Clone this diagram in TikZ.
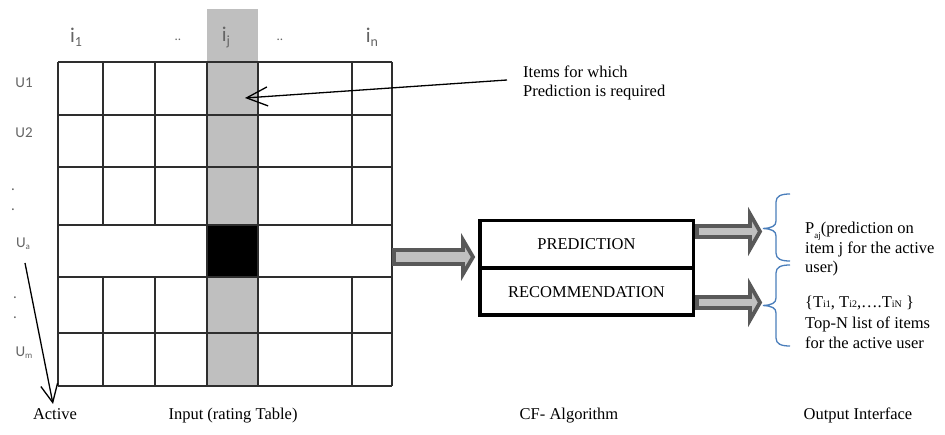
\documentclass[tikz,border=0pt]{standalone}
\usepackage{fontspec}
\setmainfont{Liberation Serif}
\newfontfamily\labfont{Carlito}
\usetikzlibrary{arrows.meta,calc}
\definecolor{gridline}{HTML}{2E2E2E}
\definecolor{colgray}{HTML}{BFBFBF}
\definecolor{fatfill}{HTML}{C0C0C0}
\definecolor{fatedge}{HTML}{595959}
\definecolor{bracecol}{HTML}{4A7EBB}
\definecolor{labgray}{HTML}{646464}
\tikzset{
  gridl/.style={draw=gridline, line width=2pt},
  txt/.style={font=\fontsize{16.5}{19.8}\selectfont, inner sep=0pt},
  rowlab/.style={font=\labfont\fontsize{15}{15}\selectfont, text=labgray, inner sep=0pt},
  collab/.style={font=\labfont\fontsize{21}{21}\selectfont, text=labgray, inner sep=0pt},
  boxpart/.style={draw=black, line width=3.5pt, minimum width=213.5pt, minimum height=47pt, inner sep=0pt, font=\fontsize{16.5}{19.8}\selectfont},
  fatarrow/.style={fill=fatfill, draw=fatedge, line width=3.8pt},
  bracestyle/.style={draw=bracecol, line width=1.3pt},
  thinarrow/.style={draw=black, line width=1.3pt, -{Straight Barb[length=21pt,width=19pt,line width=1.3pt]}}
}
\begin{document}
\begin{tikzpicture}[x=1pt,y=-1pt]
\useasboundingbox (0,0) rectangle (945,435);
\fill[white] (0,0) rectangle (945,435);

% highlighted column and target cell
\fill[colgray] (207,9) rectangle (258,386);
\fill[black] (207,225) rectangle (258,277);

% grid
\foreach \y in {62,115,167,225,277,333,386} \draw[gridl] (58,\y) -- (392,\y);
\foreach \x in {58,103,155,207,258,352,392} {
  \draw[gridl] (\x,62) -- (\x,225);
  \draw[gridl] (\x,277) -- (\x,386);
}
\foreach \x in {58,207,258,392} \draw[gridl] (\x,225) -- (\x,277);

% column labels
\node[collab] (ione) at (76,37) {i\raisebox{-4pt}{\fontsize{14}{14}\selectfont 1}};
\node[collab, font=\labfont\fontsize{13}{13}\selectfont] (cdotsa) at (178,40) {..};
\node[collab] (ij) at (226,37) {i\raisebox{-4pt}{\fontsize{14}{14}\selectfont j}};
\node[collab, font=\labfont\fontsize{13}{13}\selectfont] (cdotsb) at (280,40) {..};
\node[collab] (in) at (372,37) {i\raisebox{-4pt}{\fontsize{14}{14}\selectfont n}};

% row labels
\node[rowlab] (u1) at (24,83) {U1};
\node[rowlab] (u2) at (24,133) {U2};
\node[rowlab] (rdota) at (13,190) {.};
\node[rowlab] (rdotb) at (13,210) {.};
\node[rowlab] (ua) at (23,244) {U\raisebox{-2pt}{\fontsize{9}{9}\selectfont a}};
\node[rowlab] (rdotc) at (15,298) {.};
\node[rowlab] (rdotd) at (15,318) {.};
\node[rowlab] (um) at (24,353) {U\raisebox{-2pt}{\fontsize{9}{9}\selectfont m}};

% items annotation
\node[txt, anchor=base west] (items1) at (523,78) {Items for which};
\node[txt, anchor=base west] (items2) at (523,97) {Prediction is required};
\coordinate (itemsfrom) at (507,80);
\coordinate (celltarget) at (245,98);
\draw[thinarrow] (itemsfrom) -- (celltarget);

% active arrow
\coordinate (activefrom) at (25,263);
\coordinate (activeto) at (53,404);
\draw[thinarrow, -{Straight Barb[length=18pt,width=17pt,line width=1.3pt]}] (activefrom) -- (activeto);

% bottom captions
\node[txt, anchor=base] (active) at (55,420) {Active};
\node[txt, anchor=base] (input) at (233,420) {Input (rating Table)};
\node[txt, anchor=base] (cfalg) at (569,420) {CF- Algorithm};
\node[txt, anchor=base] (outif) at (858,420) {Output Interface};

% CF algorithm box
\node[boxpart] (pred) at (586.5,244.25) {PREDICTION};
\node[boxpart] (rec) at (586.5,291.75) {RECOMMENDATION};

% fat input arrow
\coordinate (inA) at (394,257);
\draw[fatarrow] ($(inA)+(0,-7)$) -- (463,250) -- (463,240) -- ($(pred.west |- inA)+(-5,0)$) -- (463,274) -- (463,264) -- ($(inA)+(0,7)$) -- cycle;

% fat output arrows
\draw[fatarrow] ($(pred.east)+(2,-18.25)$) -- (750,226) -- (750,214) -- (760,231.5) -- (750,249) -- (750,237) -- ($(pred.east)+(2,-7.25)$) -- cycle;
\draw[fatarrow] ($(rec.east)+(2,5.25)$) -- (750,297) -- (750,285) -- (760,302.5) -- (750,320) -- (750,308) -- ($(rec.east)+(2,16.25)$) -- cycle;

% braces
\draw[bracestyle] (790,194) .. controls (781,194) and (776,196) .. (776,202) -- (776,221)
  .. controls (776,226) and (772,228) .. (763,228.5) .. controls (772,229) and (776,231) .. (776,236)
  -- (776,253) .. controls (776,259) and (781,261) .. (790,261);
\draw[bracestyle] (790,265) .. controls (781,265) and (776,267) .. (776,273) -- (776,298)
  .. controls (776,303) and (772,305) .. (763,305.5) .. controls (772,306) and (776,308) .. (776,313)
  -- (776,338) .. controls (776,344) and (781,346) .. (790,346);

% output texts
\node[txt, anchor=base west] (out1) at (805,234) {P\raisebox{-5pt}{\fontsize{9}{9}\selectfont aj}(prediction on};
\node[txt, anchor=base west] (out2) at (805,254) {item j for the active};
\node[txt, anchor=base west] (out3) at (805,273) {user)};
\node[txt, anchor=base west] (out4) at (805,308) {\{T{\fontsize{10}{10}\selectfont i1}, T{\fontsize{10}{10}\selectfont i2},….T{\fontsize{10}{10}\selectfont iN} \}};
\node[txt, anchor=base west] (out5) at (805,329) {Top-N list of items};
\node[txt, anchor=base west] (out6) at (805,349) {for the active user};
\end{tikzpicture}
\end{document}
